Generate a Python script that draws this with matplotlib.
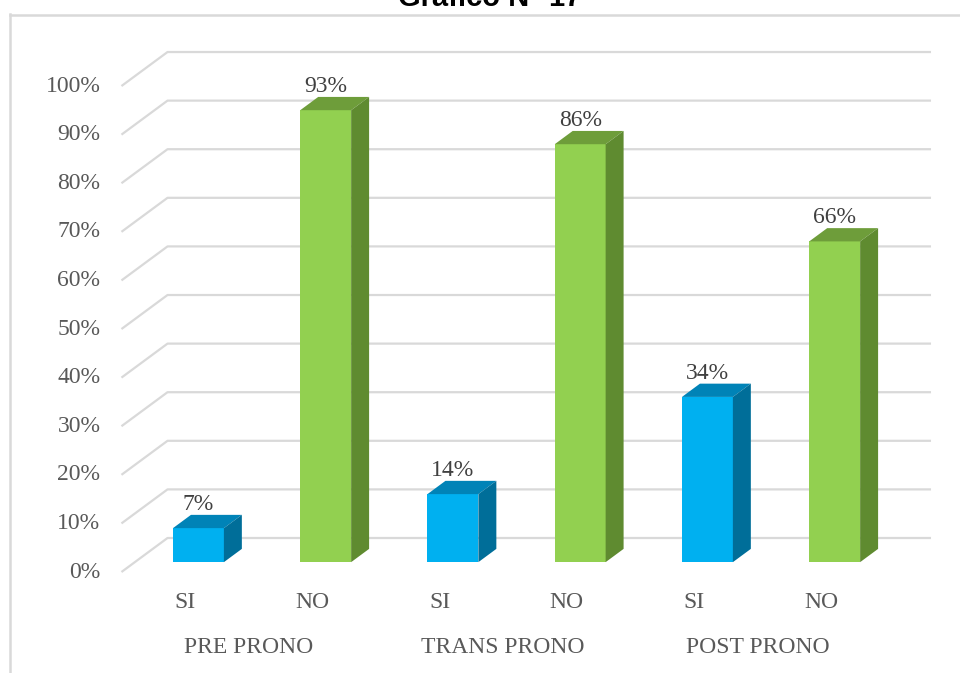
import matplotlib.pyplot as plt
from matplotlib.lines import Line2D

# values (percent) for each group, SI / NO
groups = ['PRE PRONO', 'TRANS PRONO', 'POST PRONO']
answers = ['SI', 'NO']
si_values = [7, 14, 34]
no_values = [93, 86, 66]
yticks = list(range(0, 101, 10))

face = {'SI': ('#00B0F0', '#0083B7', '#006E99'),
        'NO': ('#92D050', '#6E9D3A', '#5F8B30')}

serif = 'Liberation Serif'
grid_c = '#D9D9D9'
fs = 17

# oblique projection: depth z from back wall (0) to floor front edge (1)
DX, DY = -0.362, -7.0
Z_FRONT, Z_BACK = 0.71, 0.32
HALF_W = 0.2


def proj(x, y, z):
    return x + DX * z, y + DY * z


fig = plt.figure(figsize=(9.6, 6.73), dpi=100)
ax = fig.add_axes([0.1745, 0.2006, 0.7953, 0.7221])
ax.set_xlim(0, 6)
ax.set_ylim(0, 100)
ax.axis('off')

# back wall gridlines with the floor diagonal on the left
for v in yticks:
    x0, y0 = proj(0, v, 1)
    ax.plot([x0, 0, 6], [y0, v, v], color=grid_c, lw=1.6, clip_on=False,
            solid_capstyle='butt', zorder=1)
    ax.text(x0 - 0.165, y0, f'{v}%', ha='right', va='center', fontsize=fs,
            family=serif, color='#595959', clip_on=False)

# bars
values = []
for s, n in zip(si_values, no_values):
    values += [('SI', s), ('NO', n)]

for i, (ans, v) in enumerate(values):
    xc = i + 0.5
    xl, xr = xc - HALF_W, xc + HALF_W
    front, top, side = face[ans]
    fl = proj(xl, 0, Z_FRONT)
    fr = proj(xr, 0, Z_FRONT)
    ftl = proj(xl, v, Z_FRONT)
    ftr = proj(xr, v, Z_FRONT)
    btl = proj(xl, v, Z_BACK)
    btr = proj(xr, v, Z_BACK)
    br = proj(xr, 0, Z_BACK)
    ax.fill(*zip(fl, fr, ftr, ftl), color=front, lw=0, zorder=3, clip_on=False)
    ax.fill(*zip(ftl, ftr, btr, btl), color=top, lw=0, zorder=3, clip_on=False)
    ax.fill(*zip(fr, br, btr, ftr), color=side, lw=0, zorder=3, clip_on=False)
    lx, _ = proj(xc, v, Z_FRONT)
    _, ly = proj(xc, v, Z_BACK)
    ax.text(lx, ly + 1.0, f'{v}%', ha='center', va='baseline', fontsize=fs,
            family=serif, color='#404040', clip_on=False, zorder=4)
    cx, _ = proj(xc, 0, 1)
    ax.text(cx, -13.2, ans, ha='center', va='center', fontsize=fs,
            family=serif, color='#595959', clip_on=False)

for g, name in enumerate(groups):
    gx, _ = proj(2 * g + 1, 0, 1)
    ax.text(gx, -22.6, name, ha='center', va='center', fontsize=fs,
            family=serif, color='#595959', clip_on=False)

# chart border (left and top) and the title above it
fig.add_artist(Line2D([10 / 960, 10 / 960], [0, 1 - 14 / 673],
                      color=grid_c, lw=1.8, transform=fig.transFigure))
fig.add_artist(Line2D([10 / 960, 1], [1 - 14.5 / 673, 1 - 14.5 / 673],
                      color=grid_c, lw=1.8, transform=fig.transFigure))
fig.text(490 / 960, 1 - 6 / 673, 'Gráfico N° 17', ha='center', va='baseline',
         fontsize=21, fontweight='bold', family='Liberation Sans', color='black')

fig.savefig('out.png', dpi=100, facecolor='white')
